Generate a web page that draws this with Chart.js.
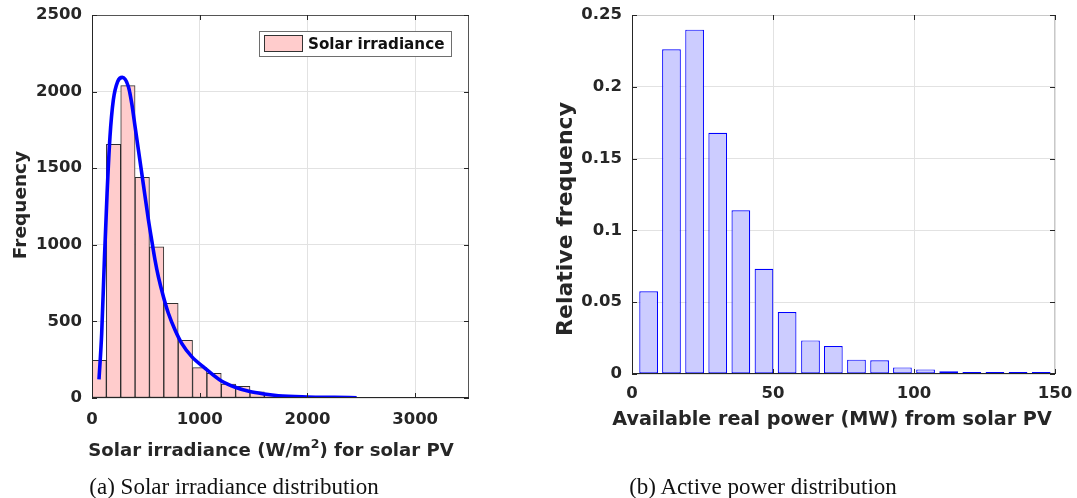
<!DOCTYPE html>
<html>
<head>
<meta charset="utf-8">
<title>Solar PV distributions</title>
<script src="https://cdn.jsdelivr.net/npm/chart.js@4.4.1/dist/chart.umd.min.js"></script>
<style>
    body { margin: 0; background: #fff; width: 1077px; height: 498px; position: relative; overflow: hidden; }
    canvas { position: absolute; top: 0; }
    #irradianceChart { left: 0; }
    #powerChart { left: 540px; }
    .caption {
        position: absolute; top: 474px; line-height: 23px;
        font: 23px "Liberation Serif", "Times New Roman", serif; color: #111;
        white-space: nowrap; transform: translateX(-50%);
    }
</style>
</head>
<body>
<canvas id="irradianceChart" width="540" height="498"></canvas>
<canvas id="powerChart" width="537" height="498"></canvas>
<div class="caption" style="left:234px">(a) Solar irradiance distribution</div>
<div class="caption" style="left:763px">(b) Active power distribution</div>

<script>
// (a) irradiance histogram, bin centres (W/m2) and counts
const irradianceBins = [66.7, 200, 333.3, 466.7, 600, 733.3, 866.7, 1000, 1133.3, 1266.7,
    1400, 1533.3, 1666.7, 1800, 1933.3, 2066.7, 2200, 2333.3, 2466.7, 2600,
    2733.3, 2866.7, 3000, 3133.3, 3266.7, 3400];
const irradianceCounts = [246, 1656, 2039, 1440, 986, 618, 376, 198, 161, 91,
    76, 41, 24, 15, 10, 6, 4, 3, 2, 1,
    1, 1, 1, 0, 1, 1];

// fitted density, scaled to counts
const fitX = [65, 90, 115, 140, 167, 198, 238, 282, 338, 369, 400, 431, 462, 493, 524,
    554, 585, 616, 663, 709, 771, 833, 926, 1050, 1198, 1330, 1465, 1600, 1730, 2000, 2250, 2457];
const fitY = [122, 422, 901, 1336, 1706, 1945, 2065, 2093, 2032, 1923, 1771, 1619, 1467, 1314, 1162,
    1031, 901, 792, 661, 553, 444, 357, 270, 194, 113, 70, 42, 26, 15, 7, 4, 2];

const irradianceXTicks = [0, 1000, 2000, 3000];
const irradianceYTicks = [0, 500, 1000, 1500, 2000, 2500];

// (b) available PV power, bin centres (MW) and relative frequency
const powerBins = [5.9, 14.0, 22.2, 30.4, 38.6, 46.8, 55.0, 63.3, 71.4, 79.6,
    87.8, 95.9, 104.1, 112.3, 120.5, 128.7, 136.9, 145.1];
const powerFreq = [0.0576, 0.2261, 0.2398, 0.168, 0.114, 0.0733, 0.0432, 0.0234, 0.0195, 0.0100,
    0.0095, 0.0046, 0.0032, 0.0019, 0.0012, 0.0005, 0.0005, 0.0004];

const powerXTicks = [0, 50, 100, 150];
const powerYTicks = [0, 0.05, 0.1, 0.15, 0.2, 0.25];

const TEXT = '#262626';
const GRID = '#e2e2e2';
const BOLD = '"DejaVu Sans", sans-serif';

const pairs = (xs, ys) => xs.map((x, i) => ({ x, y: ys[i] }));

// box around the axes with short inward ticks, MATLAB style
const framePlugin = {
    id: 'frame',
    afterDatasetsDraw(chart, args, opts) {
        const { ctx, chartArea: a, scales: { x, y } } = chart;
        const seg = (x1, y1, x2, y2) => { ctx.beginPath(); ctx.moveTo(x1, y1); ctx.lineTo(x2, y2); ctx.stroke(); };
        ctx.save();
        ctx.lineWidth = 1;
        ctx.strokeStyle = opts.far;
        seg(a.left, a.top + 0.5, a.right, a.top + 0.5);
        seg(a.right - 0.5, a.top, a.right - 0.5, a.bottom);
        ctx.strokeStyle = opts.near;
        x.ticks.forEach(t => {
            const px = Math.round(x.getPixelForValue(t.value)) + 0.5;
            seg(px, a.bottom, px, a.bottom - 5);
            seg(px, a.top, px, a.top + 5);
        });
        y.ticks.forEach(t => {
            const py = Math.round(y.getPixelForValue(t.value)) + 0.5;
            seg(a.left, py, a.left + 5, py);
            seg(a.right, py, a.right - 5, py);
        });
        seg(a.left + 0.5, a.top, a.left + 0.5, a.bottom);
        seg(a.left, a.bottom - 0.5, a.right, a.bottom - 0.5);
        ctx.restore();
    }
};

// axis titles (x title may carry a superscript part)
const titlePlugin = {
    id: 'axisTitles',
    afterDraw(chart, args, opts) {
        const { ctx } = chart;
        ctx.save();
        ctx.fillStyle = TEXT;
        ctx.textBaseline = 'alphabetic';

        const t = opts.x;
        const main = `bold ${t.size}px ${BOLD}`;
        const sup = `bold ${t.supSize}px ${BOLD}`;
        const parts = t.parts;
        let total = 0;
        parts.forEach(p => { ctx.font = p.sup ? sup : main; total += ctx.measureText(p.text).width; });
        let cx = t.cx - total / 2;
        parts.forEach(p => {
            ctx.font = p.sup ? sup : main;
            ctx.textAlign = 'left';
            ctx.fillText(p.text, cx, p.sup ? t.baseline - t.supRise : t.baseline);
            cx += ctx.measureText(p.text).width;
        });

        const v = opts.y;
        ctx.translate(v.cx, v.cy);
        ctx.rotate(-Math.PI / 2);
        ctx.font = `bold ${v.size}px ${BOLD}`;
        ctx.textAlign = 'center';
        ctx.textBaseline = 'middle';
        ctx.fillText(v.text, 0, 0);
        ctx.restore();
    }
};

// legend box inside the plot area
const boxLegendPlugin = {
    id: 'boxLegend',
    afterDraw(chart, args, opts) {
        if (!opts.show) return;
        const { ctx } = chart;
        const ds = chart.data.datasets[opts.dataset];
        ctx.save();
        ctx.fillStyle = '#fff';
        ctx.strokeStyle = '#6e6e6e';
        ctx.lineWidth = 1;
        ctx.fillRect(opts.left, opts.top, opts.width, opts.height);
        ctx.strokeRect(opts.left + 0.5, opts.top + 0.5, opts.width - 1, opts.height - 1);
        ctx.fillStyle = ds.backgroundColor;
        ctx.fillRect(opts.left + 5, opts.top + 4, 39, opts.height - 9);
        ctx.strokeStyle = '#333';
        ctx.strokeRect(opts.left + 5.5, opts.top + 4.5, 38, opts.height - 10);
        ctx.fillStyle = '#111';
        ctx.font = `bold ${opts.size}px ${BOLD}`;
        ctx.textBaseline = 'middle';
        ctx.fillText(ds.label, opts.left + 49, opts.top + opts.height / 2 + 1);
        ctx.restore();
    }
};

function tickFont(size) {
    return { family: BOLD, size, weight: 'bold' };
}

// fixed axis sizes so the plot box lands where the layout padding says
function histogramScales(cfg) {
    return {
        x: {
            type: 'linear', min: cfg.xTicks[0], max: cfg.xMax, offset: false,
            afterBuildTicks: s => { s.ticks = cfg.xTicks.map(value => ({ value })); },
            ticks: { font: tickFont(cfg.tickSize), color: TEXT, padding: cfg.xPad, maxRotation: 0, autoSkip: false, callback: v => String(v) },
            grid: { color: GRID, drawTicks: false, offset: false },
            border: { display: false },
            afterFit: s => { s.height = cfg.xHeight; s.paddingLeft = 0; s.paddingRight = 0; }
        },
        y: {
            type: 'linear', min: 0, max: cfg.yTicks[cfg.yTicks.length - 1],
            afterBuildTicks: s => { s.ticks = cfg.yTicks.map(value => ({ value })); },
            ticks: { font: tickFont(cfg.tickSize), color: TEXT, padding: 10, callback: v => String(+v.toFixed(3)) },
            grid: { color: GRID, drawTicks: false },
            border: { display: false },
            afterFit: s => { s.width = 92; s.paddingTop = 0; s.paddingBottom = 0; }
        }
    };
}

new Chart(document.getElementById('irradianceChart'), {
    type: 'bar',
    data: {
        datasets: [
            {
                type: 'line',
                label: 'Fit',
                data: pairs(fitX, fitY),
                borderColor: '#0000ff',
                borderWidth: 3.6,
                pointRadius: 0,
                cubicInterpolationMode: 'monotone',
                fill: false,
                order: 1
            },
            {
                type: 'bar',
                label: 'Solar irradiance',
                data: pairs(irradianceBins, irradianceCounts),
                backgroundColor: 'rgb(255, 204, 204)',
                borderColor: 'rgba(25, 25, 25, 0.9)',
                borderWidth: 1,
                borderSkipped: false,
                barPercentage: 1,
                categoryPercentage: 1,
                grouped: false,
                order: 2
            }
        ]
    },
    options: {
        responsive: false,
        animation: false,
        layout: { padding: { left: 0, right: 71, top: 15, bottom: 0 } },
        scales: histogramScales({ xTicks: irradianceXTicks, xMax: 3500, yTicks: irradianceYTicks, tickSize: 16.5, xPad: 12, xHeight: 100 }),
        plugins: {
            legend: { display: false },
            tooltip: { enabled: false },
            frame: { near: '#262626', far: '#555' },
            axisTitles: {
                x: { cx: 271, baseline: 456, size: 18.1, supSize: 12.5, supRise: 8,
                     parts: [{ text: 'Solar irradiance (W/m' }, { text: '2', sup: true }, { text: ') for solar PV' }] },
                y: { text: 'Frequency', cx: 21, cy: 205, size: 18.5 }
            },
            boxLegend: { show: true, dataset: 1, left: 259, top: 31, width: 193, height: 26, size: 15.2 }
        }
    },
    plugins: [framePlugin, titlePlugin, boxLegendPlugin]
});

new Chart(document.getElementById('powerChart'), {
    type: 'bar',
    data: {
        datasets: [{
            label: 'Active power',
            data: pairs(powerBins, powerFreq),
            backgroundColor: 'rgb(204, 204, 255)',
            borderColor: '#0000ff',
            borderWidth: 1.2,
            borderSkipped: false,
            minBarLength: 2,
            barPercentage: 0.82,
            categoryPercentage: 1
        }]
    },
    options: {
        responsive: false,
        animation: false,
        layout: { padding: { left: 0, right: 22, top: 15, bottom: 0 } },
        scales: histogramScales({ xTicks: powerXTicks, xMax: 150, yTicks: powerYTicks, tickSize: 16.5, xPad: 10, xHeight: 124 }),
        plugins: {
            legend: { display: false },
            tooltip: { enabled: false },
            frame: { near: '#262626', far: '#c8c8c8' },
            axisTitles: {
                x: { cx: 292, baseline: 425, size: 19.2, supSize: 12.5, supRise: 8,
                     parts: [{ text: 'Available real power (MW) from solar PV' }] },
                y: { text: 'Relative frequency', cx: 26, cy: 219, size: 22 }
            },
            boxLegend: { show: false }
        }
    },
    plugins: [framePlugin, titlePlugin, boxLegendPlugin]
});
</script>
</body>
</html>
